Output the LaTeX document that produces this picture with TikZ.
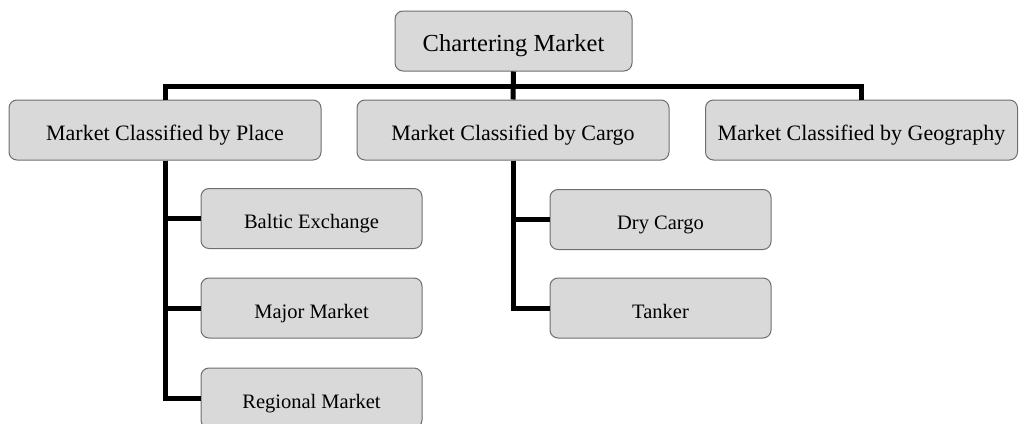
\documentclass[tikz,border=0pt]{standalone}
\usepackage{xcolor}
\usepackage{fontspec}
\setmainfont{Liberation Serif}
\usepackage{tikz}
\usetikzlibrary{shapes, calc}
\definecolor{boxgray}{HTML}{D9D9D9}
\definecolor{edgegray}{HTML}{6E6E6E}
\tikzset{box/.style={rectangle, rounded corners=8pt, draw=edgegray, line width=1pt, fill=boxgray, inner sep=0pt, minimum height=60pt, text height=22pt, text depth=2pt},
  topbox/.style={box, minimum width=237pt, font=\fontsize{24.5}{28}\selectfont},
  midbox/.style={box, minimum width=312pt, font=\fontsize{22}{26}\selectfont},
  leafbox/.style={box, minimum width=221pt, font=\fontsize{20.5}{24}\selectfont},
  link/.style={line width=5pt, black}}

\begin{document}
\begin{tikzpicture}[x=1pt, y=-1pt]
%\draw[help lines] (0,0) grid (1019,423);
\useasboundingbox (0,0) rectangle (1019,423);
\path (513.5,41) node(chartering) [topbox] {Chartering Market}
(165,130) node(by_place) [midbox] {Market Classified by Place}
(513,130) node(by_cargo) [midbox] {Market Classified by Cargo}
(861.5,130) node(by_geography) [midbox] {Market Classified by Geography}
(311.5,218.5) node(baltic) [leafbox] {Baltic Exchange}
(311.5,308) node(major_market) [leafbox] {Major Market}
(311.5,398) node(regional_market) [leafbox] {Regional Market}
(660.5,219.5) node(dry_cargo) [leafbox] {Dry Cargo}
(660.5,308) node(tanker) [leafbox] {Tanker};

% bus under the top box
\draw[link] (chartering.south) -- ++(0,15) -| (by_place.north);
\draw[link] (chartering.south) -- (by_cargo.north);
\draw[link] (chartering.south) -- ++(0,15) -| (by_geography.north);

% by place
\draw[link] (by_place.south) |- (baltic.west);
\draw[link] (by_place.south) |- (major_market.west);
\draw[link] (by_place.south) |- (regional_market.west);

% by cargo
\draw[link] (by_cargo.south) |- (dry_cargo.west);
\draw[link] (by_cargo.south) |- (tanker.west);
\end{tikzpicture}
\end{document}
